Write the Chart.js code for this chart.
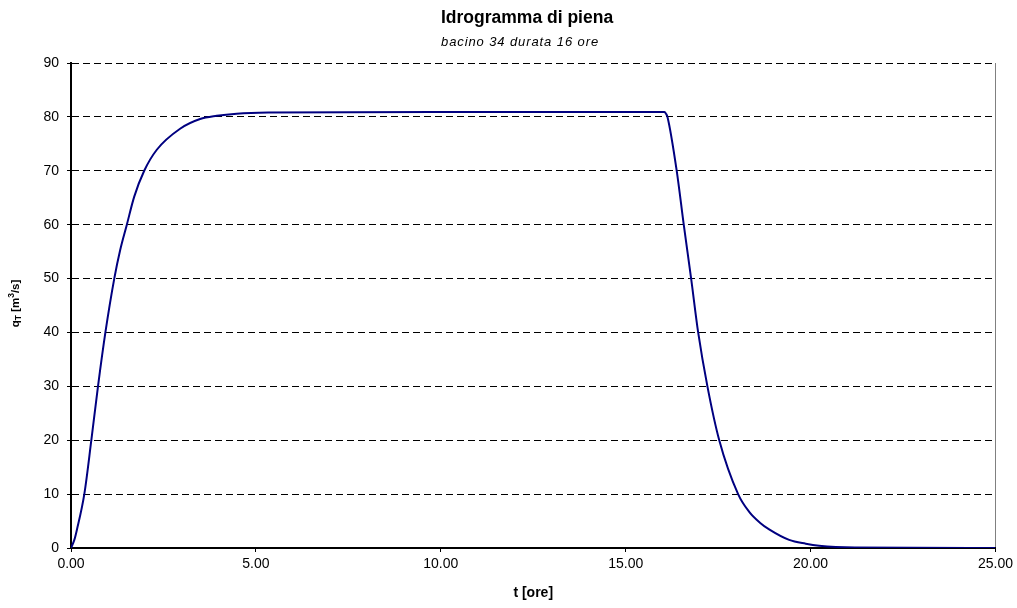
<!DOCTYPE html>
<html>
<head>
<meta charset="utf-8">
<title>Idrogramma di piena</title>
<script src="https://cdn.jsdelivr.net/npm/chart.js@4.4.1/dist/chart.umd.min.js"></script>
<style>
    html, body { margin: 0; padding: 0; background: #fff; }
    #wrap { width: 1017px; height: 608px; }
</style>
</head>
<body>
<div id="wrap"><canvas id="hydro-chart" width="1017" height="608"></canvas></div>
<script>
// Values
const chartTitle = 'Idrogramma di piena';
const chartSubtitle = 'bacino 34 durata 16 ore';
const xTitle = 't [ore]';

// time [ore]
const tHours = [
    0, 0.09, 0.16, 0.36, 0.55, 0.73, 0.93, 1.17, 1.33, 1.51, 1.71, 1.98, 2.32, 2.95,
    3.49, 3.94, 4.48, 5.33, 9.8, 16.05, 16.09, 16.13, 16.38, 16.57, 16.77, 16.96,
    17.21, 17.53, 18.04, 18.34, 18.63, 18.89, 19.42, 19.87, 20.23, 21.2, 25
];
// discharge q_T [m3/s]
const qFlow = [
    0, 1.5, 3.4, 10, 20, 30, 40, 50, 55.3, 60, 65.2, 70, 73.9, 77.8,
    79.6, 80.2, 80.6, 80.8, 80.9, 80.9, 80.6, 80, 70, 60, 50, 40,
    30, 20, 10, 6.7, 4.7, 3.4, 1.5, 0.8, 0.43, 0.1, 0
];

const xTicks = [0, 5, 10, 15, 20, 25];
const yTicks = [0, 10, 20, 30, 40, 50, 60, 70, 80, 90];

(function() {
    'use strict';

    const FONT = '"Liberation Sans", Arial, sans-serif';

    /**
     * Chart title, subtitle and y axis title (with subscript T), drawn as canvas text
     */
    const titlesPlugin = {
        id: 'titles',
        afterDraw: function(chart) {
            const ctx = chart.ctx;
            const area = chart.chartArea;

            ctx.save();
            ctx.fillStyle = '#000';
            ctx.textAlign = 'left';
            ctx.textBaseline = 'alphabetic';
            ctx.font = 'bold 17.5px ' + FONT;
            ctx.fillText(chartTitle, 441, 23);
            ctx.font = 'italic 13px ' + FONT;
            if ('letterSpacing' in ctx) ctx.letterSpacing = '0.9px';
            ctx.fillText(chartSubtitle, 441, 45.5);
            if ('letterSpacing' in ctx) ctx.letterSpacing = '0px';
            ctx.restore();

            const cy = (area.top + area.bottom) / 2 - 2;
            const parts = [
                { text: 'q', font: 'bold 11.5px ' + FONT, dy: 0 },
                { text: 'T', font: 'bold 8.5px ' + FONT, dy: 3 },
                { text: ' [m', font: 'bold 11.5px ' + FONT, dy: 0 },
                { text: '3', font: 'bold 8.5px ' + FONT, dy: -4 },
                { text: '/s]', font: 'bold 11.5px ' + FONT, dy: 0 }
            ];
            ctx.save();
            let total = 0;
            parts.forEach(p => { ctx.font = p.font; p.w = ctx.measureText(p.text).width; total += p.w; });
            ctx.translate(16, cy);
            ctx.rotate(-Math.PI / 2);
            ctx.fillStyle = '#000';
            ctx.textBaseline = 'middle';
            let x = -total / 2;
            parts.forEach(p => {
                ctx.font = p.font;
                ctx.fillText(p.text, x, p.dy);
                x += p.w;
            });
            ctx.restore();
        }
    };

    const points = tHours.map((t, i) => ({ x: t, y: qFlow[i] }));

    new Chart(document.getElementById('hydro-chart'), {
        type: 'scatter',
        data: {
            datasets: [{
                data: points,
                showLine: true,
                borderColor: '#000080',
                borderWidth: 2,
                pointRadius: 0,
                cubicInterpolationMode: 'monotone',
                fill: false
            }]
        },
        options: {
            responsive: false,
            animation: false,
            layout: { padding: { left: 0, right: 20, top: 63, bottom: 6 } },
            plugins: {
                legend: { display: false },
                tooltip: { enabled: false },
                title: { display: false },
                subtitle: { display: false }
            },
            scales: {
                x: {
                    type: 'linear',
                    min: 0,
                    max: 25,
                    afterFit: function(scale) { scale.height = 54; },
                    afterBuildTicks: function(scale) {
                        scale.ticks = xTicks.map(v => ({ value: v }));
                    },
                    ticks: {
                        color: '#000',
                        font: { family: FONT, size: 14 },
                        padding: 4,
                        maxRotation: 0,
                        callback: v => v.toFixed(2)
                    },
                    grid: {
                        drawOnChartArea: true,
                        color: ctx => (ctx.tick && ctx.tick.value === 25) ? '#808080' : 'rgba(0,0,0,0)',
                        tickColor: '#000',
                        tickLength: 4
                    },
                    border: { color: '#000', width: 2 },
                    title: {
                        display: true,
                        text: xTitle,
                        color: '#000',
                        font: { family: FONT, size: 14, weight: 'bold' },
                        padding: { top: 0, bottom: 0 }
                    }
                },
                y: {
                    min: 0,
                    max: 90,
                    afterFit: function(scale) { scale.width = 71; },
                    afterBuildTicks: function(scale) {
                        scale.ticks = yTicks.map(v => ({ value: v }));
                    },
                    ticks: {
                        color: '#000',
                        font: { family: FONT, size: 14 },
                        padding: 8
                    },
                    grid: {
                        color: '#000',
                        lineWidth: 1,
                        tickColor: '#000',
                        tickLength: 4,
                        tickBorderDash: []
                    },
                    border: { color: '#000', width: 2, dash: [7, 4] }
                }
            }
        },
        plugins: [titlesPlugin]
    });
})();
</script>
</body>
</html>
